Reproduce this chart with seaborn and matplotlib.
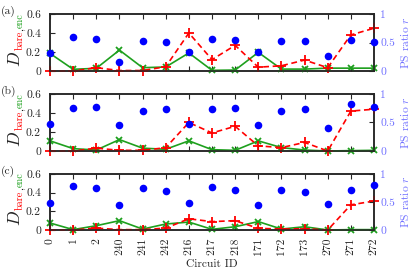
import numpy as np
import pandas as pd
import matplotlib
matplotlib.use('Agg')
import matplotlib.pyplot as plt
import seaborn as sns

sns.set_style('ticks')
plt.rcParams['font.family'] = ['cmr10', 'DejaVu Serif']
plt.rcParams['mathtext.fontset'] = 'cm'
plt.rcParams['axes.formatter.use_mathtext'] = True
plt.rcParams['axes.unicode_minus'] = False

circuits = ['0', '1', '2', '240', '241', '242', '216', '217', '218',
            '171', '172', '173', '270', '271', '272']

# panel (a)
d_bare_a = [0, 0, 0.035, 0.005, 0.005, 0.045, 0.40, 0.12, 0.27, 0.04, 0.055, 0.115, 0.035, 0.38, 0.45]
d_enc_a = [0.185, 0.018, 0.028, 0.22, 0.035, 0.042, 0.19, 0.007, 0.01, 0.196, 0.02, 0.02, 0.03, 0.03, 0.03]
ps_a = [0.32, 0.60, 0.57, 0.15, 0.53, 0.51, 0.33, 0.57, 0.54, 0.33, 0.52, 0.52, 0.27, 0.55, 0.51]

# panel (b)
d_bare_b = [0, 0, 0.03, 0.007, 0.007, 0.035, 0.30, 0.19, 0.26, 0.054, 0.036, 0.09, 0, 0.42, 0.44]
d_enc_b = [0.107, 0.025, 0.01, 0.12, 0.03, 0.018, 0.107, 0.014, 0.007, 0.107, 0.036, 0.01, 0, 0.004, 0.007]
ps_b = [0.47, 0.75, 0.78, 0.46, 0.70, 0.73, 0.47, 0.73, 0.76, 0.45, 0.70, 0.73, 0.40, 0.82, 0.78]

# panel (c)
d_bare_c = [0, 0, 0.02, 0.004, 0.004, 0.02, 0.12, 0.09, 0.10, 0.018, 0.01, 0.014, 0, 0.27, 0.31]
d_enc_c = [0.075, 0.004, 0.046, 0.10, 0.01, 0.064, 0.085, 0.007, 0.035, 0.09, 0.01, 0.035, 0, 0.004, 0.004]
ps_c = [0.48, 0.79, 0.75, 0.45, 0.75, 0.69, 0.48, 0.76, 0.72, 0.45, 0.71, 0.68, 0.46, 0.72, 0.81]

panels = [('(a)', d_bare_a, d_enc_a, ps_a),
          ('(b)', d_bare_b, d_enc_b, ps_b),
          ('(c)', d_bare_c, d_enc_c, ps_c)]

red = '#ff0000'
green = '#1ea01e'
blue = '#0000ff'
light_blue = '#7070ff'
fs = 8.3

W, H = 415, 277
fig = plt.figure(figsize=(W / 100, H / 100), dpi=100)

# panel boxes in pixels: (top, bottom)
boxes = [(14, 71), (94, 151), (174, 230)]
left_px, right_px = 50, 374

axes = []
for (label, d_bare, d_enc, ps), (top, bot) in zip(panels, boxes):
    ax = fig.add_axes([left_px / W, 1 - bot / H, (right_px - left_px) / W, (bot - top) / H])
    df = pd.DataFrame({'circuit': circuits, 'bare': d_bare, 'enc': d_enc, 'ps': ps})

    sns.lineplot(data=df, x='circuit', y='enc', ax=ax, sort=False, color=green,
                 marker='x', markersize=5, markeredgewidth=1.3, linewidth=1.2,
                 markeredgecolor=green, clip_on=False, zorder=3)
    sns.lineplot(data=df, x='circuit', y='bare', ax=ax, sort=False, color=red,
                 marker='+', markersize=7, markeredgewidth=1.3, linewidth=1.2,
                 linestyle=(0, (3.5, 2.2)), markeredgecolor=red, clip_on=False, zorder=4)

    ax.set_ylim(0, 0.6)
    ax.set_yticks([0, 0.2, 0.4, 0.6])
    ax.set_yticklabels(['0', '0.2', '0.4', '0.6'])
    ax.set_ylabel('')
    ax.set_xlabel('')
    ax.tick_params(axis='both', direction='in', top=True, length=3.5, width=0.8,
                   labelsize=fs)
    ax.tick_params(axis='y', pad=6.5)
    ax.tick_params(axis='x', pad=5.5)
    for sp in ax.spines.values():
        sp.set_linewidth(1.1)
        sp.set_visible(True)

    ax2 = ax.twinx()
    sns.scatterplot(data=df, x='circuit', y='ps', ax=ax2, color=blue, s=30,
                    linewidth=0, clip_on=False, zorder=5)
    ax2.set_ylim(0, 1)
    ax2.set_yticks([0, 0.5, 1])
    ax2.set_yticklabels(['0', '0.5', '1'])
    ax2.set_ylabel('PS ratio $r$', color=light_blue, fontsize=fs, labelpad=3)
    ax2.tick_params(axis='y', direction='in', length=3.5, width=0.8,
                    labelsize=fs, labelcolor=light_blue, pad=4.5)
    for sp in ax2.spines.values():
        sp.set_linewidth(1.1)
    ax.set_xlim(0, len(circuits) - 1)

    fig.text(1 / W, 1 - (top - 3) / H, label, fontsize=fs, va='center', ha='left')
    axes.append(ax)

for ax in axes[:-1]:
    ax.tick_params(axis='x', labelbottom=False)
axes[-1].tick_params(axis='x', labelrotation=90)
axes[-1].set_xlabel('Circuit ID', fontsize=fs, labelpad=3)

# coloured ylabel D_{bare,enc}
fig.canvas.draw()
renderer = fig.canvas.get_renderer()
for (top, bot) in boxes:
    x0 = 20
    y0 = H - bot + 4
    t = fig.text(x0 / W, y0 / H, '$D$', rotation=90, rotation_mode='anchor',
                 ha='left', va='baseline', fontsize=12.5)
    yy = t.get_window_extent(renderer).y1 + 0.5
    for s, c in [('bare', red), (',', 'black'), ('enc', green)]:
        tt = fig.text((x0 + 3) / W, yy / H, s, rotation=90, rotation_mode='anchor',
                      ha='left', va='baseline', fontsize=7.3, color=c)
        yy = tt.get_window_extent(renderer).y1

fig.savefig('out.png', dpi=100)
